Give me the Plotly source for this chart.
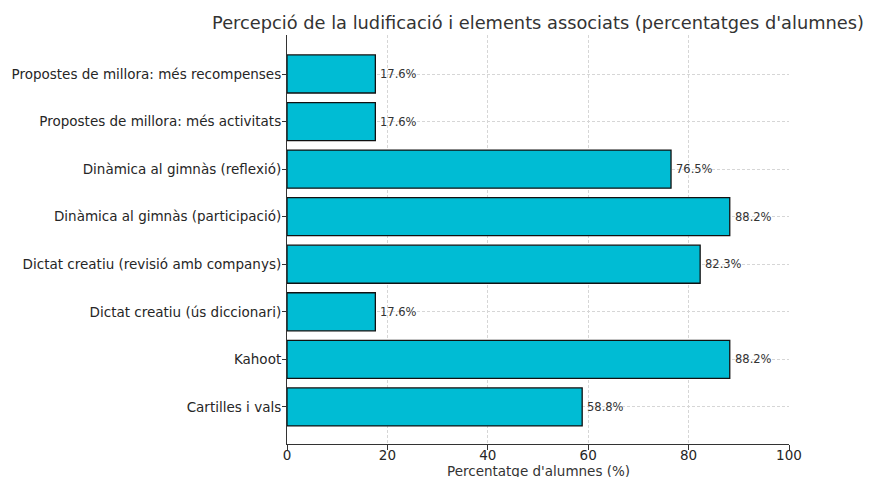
import plotly.graph_objects as go

categories = [
    "Cartilles i vals",
    "Kahoot",
    "Dictat creatiu (ús diccionari)",
    "Dictat creatiu (revisió amb companys)",
    "Dinàmica al gimnàs (participació)",
    "Dinàmica al gimnàs (reflexió)",
    "Propostes de millora: més activitats",
    "Propostes de millora: més recompenses",
]
values = [58.8, 88.2, 17.6, 82.3, 88.2, 76.5, 17.6, 17.6]
x_ticks = [0, 20, 40, 60, 80, 100]

title_text = "Percepció de la ludificació i elements associats (percentatges d'alumnes)"
x_title = "Percentatge d'alumnes (%)"

FONT = "DejaVu Sans"
W, H = 872, 477
OFF = 8  # page body margin
L, R, T, B = 287 - OFF, 83 + OFF, 35 - OFF, 33 + OFF
PH = H - T - B

fig = go.Figure()
fig.add_trace(go.Bar(
    x=values,
    y=categories,
    orientation="h",
    width=0.8,
    marker=dict(color="#00BCD4", line=dict(color="#111111", width=1.3)),
    hoverinfo="x+y",
))

for c, v in zip(categories, values):
    fig.add_annotation(
        x=v, y=c, xref="x", yref="y",
        text=f"{v:.1f}%", showarrow=False,
        xanchor="left", yanchor="middle", xshift=3,
        font=dict(family=FONT, size=11.5, color="#333333"),
    )

fig.add_annotation(
    x=0.5, y=-(470.5 - 444) / PH, xref="paper", yref="paper",
    text=x_title, showarrow=False, xanchor="center", yanchor="middle",
    font=dict(family=FONT, size=13.5, color="#333333"),
)

fig.update_layout(
    width=W, height=H,
    margin=dict(l=L, r=R, t=T, b=B, autoexpand=False),
    paper_bgcolor="white",
    plot_bgcolor="white",
    showlegend=False,
    font=dict(family=FONT, color="#262626"),
    title=dict(
        text=title_text,
        x=(L + (W - R)) / 2 / W, xanchor="center",
        y=1 - (22.5 - OFF) / H, yanchor="middle", yref="container",
        font=dict(family=FONT, size=17.8, color="#333333"),
    ),
    bargap=0.2,
)

fig.update_xaxes(
    range=[0, 100],
    tickvals=x_ticks,
    ticktext=[str(t) for t in x_ticks],
    ticks="outside", ticklen=5, tickwidth=1, tickcolor="#333333",
    ticklabelstandoff=-6,
    tickfont=dict(family=FONT, size=13.5, color="#262626"),
    showline=True, linecolor="#333333", linewidth=1.2,
    showgrid=True, gridcolor="#d6d6d6", griddash="3px,2px", gridwidth=0.8,
    zeroline=False, mirror=False, automargin=False,
)
fig.update_yaxes(
    type="category",
    categoryorder="array", categoryarray=categories,
    range=[-0.78, 7.82],
    ticks="outside", ticklen=4, tickwidth=1, tickcolor="#333333",
    ticklabelstandoff=-2,
    tickfont=dict(family=FONT, size=13.5, color="#262626"),
    showline=True, linecolor="#333333", linewidth=1.2,
    showgrid=True, gridcolor="#d6d6d6", griddash="3px,2px", gridwidth=0.8,
    zeroline=False, mirror=False, automargin=False,
)

fig.write_html("out.html")
